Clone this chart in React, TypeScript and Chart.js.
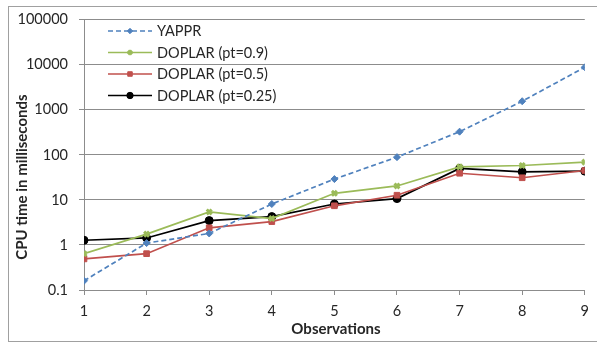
import React, { useEffect, useRef } from "react";
import { Chart, registerables } from "chart.js";
import { drawPoint } from "chart.js/helpers";

Chart.register(...registerables);

const observations = [1, 2, 3, 4, 5, 6, 7, 8, 9];
const yapprValues = [0.16, 1.1, 1.8, 8.1, 29, 89, 327, 1550, 8800];
const doplar09Values = [0.64, 1.74, 5.4, 3.85, 14, 20.4, 54, 58, 69];
const doplar05Values = [0.49, 0.64, 2.4, 3.3, 7.4, 12.7, 39, 31, 45];
const doplar025Values = [1.27, 1.43, 3.47, 4.26, 8.1, 10.7, 50, 42, 43.5];
const yTickValues = [0.1, 1, 10, 100, 1000, 10000, 100000];
const seriesNames = ["YAPPR", "DOPLAR (pt=0.9)", "DOPLAR (pt=0.5)", "DOPLAR (pt=0.25)"];
const xTitle = "Observations";
const yTitle = "CPU time in milliseconds";

const FONT = "Lato, 'Open Sans', sans-serif";
const TEXT = "#262626";
const GRID = "#8c8c8c";

const toXY = (vals: number[]) => vals.map((v, i) => ({ x: observations[i], y: v }));

const decorPlugin = {
  id: "decor",
  beforeDraw(chart: any) {
    const ctx = chart.ctx;
    ctx.save();
    ctx.strokeStyle = "#a0a0a0";
    ctx.lineWidth = 1;
    ctx.strokeRect(8.5, 6.5, chart.width + 20, 335);
    ctx.restore();
  },
  afterDraw(chart: any) {
    const ctx = chart.ctx;
    ctx.save();
    ctx.fillStyle = TEXT;
    ctx.font = `bold 15px ${FONT}`;
    ctx.textAlign = "center";
    ctx.textBaseline = "middle";
    ctx.fillText(xTitle, 336, 329);
    ctx.translate(22, 177);
    ctx.rotate(-Math.PI / 2);
    ctx.fillText(yTitle, 0, 0);
    ctx.restore();

    const rows = [31, 52.5, 74, 95.5];
    chart.data.datasets.forEach((ds: any, i: number) => {
      const y = rows[i];
      ctx.save();
      ctx.strokeStyle = ds.borderColor;
      ctx.lineWidth = ds.borderWidth;
      ctx.setLineDash(ds.borderDash || []);
      ctx.beginPath();
      ctx.moveTo(108, y);
      ctx.lineTo(152, y);
      ctx.stroke();
      ctx.restore();
      ctx.save();
      ctx.fillStyle = ds.pointBackgroundColor;
      ctx.strokeStyle = ds.pointBorderColor;
      ctx.lineWidth = ds.pointBorderWidth;
      drawPoint(
        ctx,
        { pointStyle: ds.pointStyle, radius: ds.pointRadius - 0.8, borderWidth: ds.pointBorderWidth, rotation: 0 } as any,
        130,
        y
      );
      ctx.restore();
      ctx.save();
      ctx.fillStyle = TEXT;
      ctx.font = `14.5px ${FONT}`;
      ctx.textAlign = "left";
      ctx.textBaseline = "middle";
      ctx.fillText(ds.label, 157, y + 0.5);
      ctx.restore();
    });
  },
};

export default function App() {
  const ref = useRef<HTMLCanvasElement | null>(null);
  useEffect(() => {
    if (!ref.current) return;
    const mk = (label: string, vals: number[], color: string, style: string, r: number, bw: number, dash?: number[]) => ({
      label,
      data: toXY(vals),
      borderColor: color,
      backgroundColor: color,
      pointBackgroundColor: color,
      pointBorderColor: color,
      borderWidth: 1.7,
      borderDash: dash,
      pointStyle: style,
      pointRadius: r,
      pointBorderWidth: bw,
      pointHoverRadius: r,
      tension: 0,
    });
    const chart = new Chart(ref.current, {
      type: "line",
      data: {
        datasets: [
          mk(seriesNames[0], yapprValues, "#4F81BD", "rectRot", 3.5, 1, [5, 3]),
          mk(seriesNames[1], doplar09Values, "#9BBB59", "crossRot", 3.5, 3),
          mk(seriesNames[2], doplar05Values, "#C0504D", "rect", 4, 1),
          mk(seriesNames[3], doplar025Values, "#000000", "circle", 4, 1),
        ] as any,
      },
      options: {
        animation: false,
        responsive: false,
        events: [],
        layout: { padding: { top: 16, right: 9.5, left: 0, bottom: 0 } },
        plugins: { legend: { display: false }, tooltip: { enabled: false } },
        scales: {
          x: {
            type: "linear",
            min: 1,
            max: 9,
            afterFit: (s: any) => {
              s.height = 53;
            },
            ticks: {
              stepSize: 1,
              color: TEXT,
              font: { family: FONT, size: 14.5 },
              padding: 8,
            },
            grid: { drawOnChartArea: false, drawTicks: true, tickLength: 5, color: GRID },
            border: { color: GRID },
          },
          y: {
            type: "logarithmic",
            min: 0.1,
            max: 100000,
            afterFit: (s: any) => {
              s.width = 84;
            },
            afterBuildTicks: (s: any) => {
              s.ticks = yTickValues.map((v) => ({ value: v, major: false }));
            },
            ticks: {
              color: TEXT,
              font: { family: FONT, size: 14.5 },
              padding: 11,
              autoSkip: false,
              callback: (v: any) => String(v),
            },
            grid: { color: GRID, tickLength: 5 },
            border: { color: GRID },
          },
        },
      },
      plugins: [decorPlugin],
    });
    return () => chart.destroy();
  }, []);
  return (
    <div style={{ position: "absolute", left: 0, top: 0, width: 597, height: 343, background: "#fff" }}>
      <canvas ref={ref} width={597} height={343} style={{ width: 597, height: 343, display: "block" }} />
    </div>
  );
}
